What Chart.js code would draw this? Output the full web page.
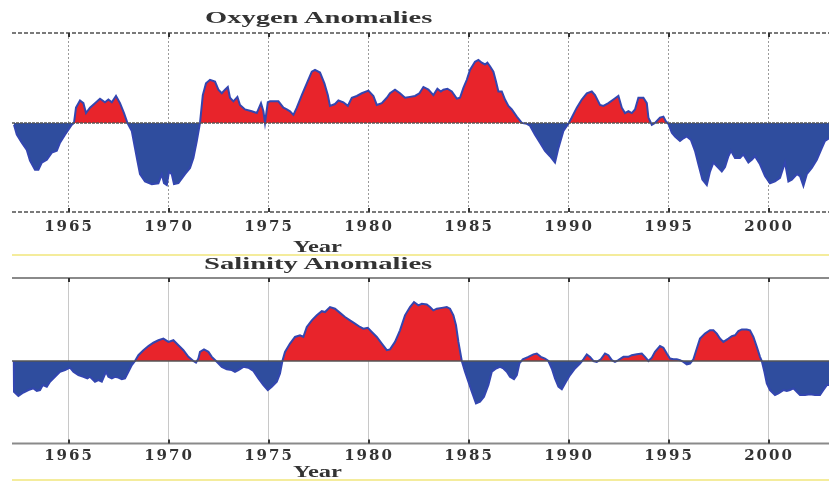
<!DOCTYPE html>
<html><head><meta charset="utf-8">
<script src="https://cdn.jsdelivr.net/npm/chart.js@4.4.1/dist/chart.umd.min.js"></script>
<style>
html,body{margin:0;padding:0;background:#fff;width:829px;height:481px;overflow:hidden;position:relative}
.wrap{position:absolute;left:0;width:829px}
#w1{top:0;height:255px}
#w2{top:255px;height:226px}
canvas{display:block}
.lbl{position:absolute;font-family:'Liberation Serif','Times New Roman',serif;font-weight:bold;color:#333;white-space:nowrap;transform-origin:left center;line-height:1}
.yl{position:absolute;left:12px;width:817px;height:2px;background:#f4ec9c}
</style></head>
<body>
<div class="wrap" id="w1"><canvas id="c1" width="829" height="255" style="width:829px;height:255px"></canvas></div>
<div class="wrap" id="w2"><canvas id="c2" width="829" height="226" style="width:829px;height:226px"></canvas></div>
<div class="lbl" id="t1" data-w="228" style="left:205px;top:9px;font-size:17px">Oxygen Anomalies</div>
<div class="lbl" id="y1" data-w="49" style="left:293px;top:239px;font-size:16px">Year</div>
<div class="yl" style="top:254px"></div>
<div class="lbl" id="t2" data-w="229" style="left:204px;top:255px;font-size:17px">Salinity Anomalies</div>
<div class="lbl" id="y2" data-w="49" style="left:293px;top:464px;font-size:16px">Year</div>
<div class="yl" style="top:479px"></div>
<script>
const tickYears = [1965, 1970, 1975, 1980, 1985, 1990, 1995, 2000];

const oxyYears = [1962.25,1962.39,1962.64,1962.89,1963.05,1963.30,1963.47,1963.64,1963.89,1964.14,1964.39,1964.55,1964.80,1965.14,1965.25,1965.35,1965.55,1965.72,1965.85,1966.05,1966.30,1966.55,1966.80,1966.97,1967.14,1967.35,1967.55,1967.75,1967.92,1968.14,1968.30,1968.42,1968.55,1968.80,1969.14,1969.47,1969.64,1969.75,1969.89,1970.00,1970.14,1970.25,1970.47,1970.80,1971.05,1971.22,1971.39,1971.55,1971.69,1971.85,1972.05,1972.30,1972.47,1972.64,1972.80,1972.94,1973.05,1973.22,1973.42,1973.55,1973.80,1974.14,1974.39,1974.60,1974.72,1974.80,1974.94,1975.05,1975.47,1975.72,1975.89,1976.05,1976.22,1976.39,1976.64,1976.89,1977.14,1977.30,1977.55,1977.77,1977.94,1978.05,1978.30,1978.47,1978.72,1978.94,1979.14,1979.39,1979.64,1979.97,1980.22,1980.39,1980.64,1980.89,1981.05,1981.30,1981.55,1981.80,1982.05,1982.30,1982.52,1982.72,1982.97,1983.22,1983.42,1983.59,1983.72,1983.92,1984.14,1984.39,1984.55,1984.72,1984.89,1985.05,1985.30,1985.47,1985.64,1985.80,1985.92,1986.05,1986.22,1986.35,1986.47,1986.64,1986.80,1986.97,1987.14,1987.39,1987.64,1987.89,1988.05,1988.30,1988.55,1988.80,1989.05,1989.30,1989.47,1989.72,1989.97,1990.14,1990.39,1990.64,1990.89,1991.14,1991.30,1991.55,1991.72,1991.97,1992.22,1992.47,1992.64,1992.80,1992.97,1993.14,1993.30,1993.47,1993.72,1993.89,1993.97,1994.14,1994.30,1994.55,1994.72,1994.84,1994.97,1995.14,1995.30,1995.55,1995.72,1995.89,1996.10,1996.30,1996.47,1996.67,1996.89,1997.05,1997.22,1997.47,1997.64,1997.80,1997.97,1998.10,1998.30,1998.55,1998.72,1998.97,1999.14,1999.30,1999.55,1999.80,2000.05,2000.30,2000.55,2000.80,2000.97,2001.14,2001.39,2001.55,2001.72,2001.89,2002.14,2002.39,2002.64,2002.80,2003.00];
const oxyValues = [-0.02,-0.13,-0.22,-0.30,-0.42,-0.52,-0.52,-0.44,-0.41,-0.33,-0.31,-0.22,-0.13,-0.02,0.00,0.17,0.25,0.22,0.11,0.17,0.22,0.27,0.23,0.26,0.23,0.30,0.22,0.11,0.00,-0.09,-0.28,-0.42,-0.57,-0.65,-0.68,-0.67,-0.57,-0.67,-0.69,-0.54,-0.57,-0.68,-0.67,-0.57,-0.50,-0.39,-0.20,0.00,0.31,0.44,0.48,0.46,0.37,0.33,0.37,0.40,0.28,0.24,0.29,0.20,0.15,0.13,0.11,0.22,0.13,0.00,0.23,0.24,0.24,0.17,0.15,0.13,0.09,0.17,0.31,0.44,0.57,0.59,0.56,0.44,0.31,0.19,0.21,0.25,0.23,0.19,0.28,0.30,0.33,0.36,0.30,0.20,0.22,0.28,0.33,0.37,0.33,0.28,0.29,0.30,0.33,0.40,0.37,0.31,0.38,0.35,0.37,0.38,0.35,0.27,0.28,0.39,0.48,0.59,0.68,0.70,0.67,0.65,0.67,0.63,0.57,0.46,0.35,0.35,0.26,0.19,0.15,0.07,0.00,-0.01,-0.03,-0.13,-0.22,-0.31,-0.37,-0.44,-0.28,-0.09,-0.01,0.06,0.17,0.26,0.33,0.35,0.31,0.20,0.19,0.22,0.26,0.30,0.17,0.11,0.13,0.11,0.15,0.28,0.28,0.22,0.06,-0.02,0.00,0.06,0.07,0.02,-0.01,-0.11,-0.15,-0.20,-0.17,-0.15,-0.19,-0.31,-0.46,-0.63,-0.69,-0.54,-0.44,-0.50,-0.54,-0.49,-0.37,-0.31,-0.39,-0.39,-0.35,-0.44,-0.41,-0.37,-0.46,-0.59,-0.67,-0.65,-0.61,-0.44,-0.65,-0.63,-0.57,-0.59,-0.70,-0.57,-0.50,-0.41,-0.28,-0.20,-0.17];

const salYears = [1962.24,1962.25,1962.47,1962.72,1962.97,1963.22,1963.39,1963.55,1963.69,1963.89,1964.05,1964.30,1964.55,1964.80,1965.05,1965.22,1965.47,1965.72,1965.92,1966.05,1966.30,1966.47,1966.64,1966.85,1966.97,1967.14,1967.30,1967.47,1967.64,1967.80,1967.97,1968.14,1968.30,1968.47,1968.72,1968.97,1969.22,1969.47,1969.72,1969.97,1970.22,1970.47,1970.72,1970.97,1971.22,1971.35,1971.47,1971.55,1971.75,1971.97,1972.14,1972.39,1972.64,1972.89,1973.14,1973.30,1973.47,1973.72,1973.97,1974.22,1974.47,1974.72,1974.94,1975.14,1975.39,1975.55,1975.67,1975.80,1976.05,1976.30,1976.55,1976.72,1976.89,1977.14,1977.39,1977.64,1977.80,1978.05,1978.30,1978.55,1978.80,1979.05,1979.30,1979.55,1979.72,1979.94,1980.14,1980.39,1980.64,1980.89,1981.05,1981.30,1981.55,1981.80,1982.05,1982.25,1982.47,1982.64,1982.89,1983.05,1983.22,1983.39,1983.64,1983.89,1984.05,1984.22,1984.35,1984.47,1984.64,1984.80,1984.97,1985.14,1985.35,1985.55,1985.75,1985.97,1986.14,1986.35,1986.55,1986.72,1986.89,1987.05,1987.25,1987.39,1987.52,1987.69,1987.97,1988.22,1988.39,1988.59,1988.80,1988.97,1989.14,1989.30,1989.47,1989.64,1989.85,1990.05,1990.30,1990.55,1990.72,1990.89,1991.05,1991.22,1991.39,1991.59,1991.80,1991.97,1992.14,1992.30,1992.47,1992.72,1992.97,1993.14,1993.39,1993.64,1993.80,1993.97,1994.14,1994.30,1994.55,1994.72,1994.89,1995.05,1995.22,1995.39,1995.55,1995.72,1995.89,1996.05,1996.22,1996.39,1996.55,1996.80,1997.05,1997.22,1997.39,1997.55,1997.72,1997.97,1998.14,1998.30,1998.47,1998.64,1998.89,1999.05,1999.22,1999.39,1999.55,1999.64,1999.77,1999.89,2000.05,2000.30,2000.47,2000.72,2000.89,2001.05,2001.22,2001.39,2001.55,2001.80,2002.05,2002.30,2002.55,2002.72,2002.89,2003.00];
const salValues = [0.00,-0.37,-0.42,-0.38,-0.35,-0.33,-0.36,-0.35,-0.29,-0.31,-0.25,-0.19,-0.13,-0.11,-0.08,-0.13,-0.17,-0.19,-0.21,-0.19,-0.25,-0.23,-0.25,-0.13,-0.19,-0.21,-0.19,-0.20,-0.22,-0.21,-0.13,-0.05,0.00,0.07,0.13,0.18,0.22,0.25,0.27,0.23,0.25,0.19,0.13,0.05,0.00,-0.02,0.03,0.11,0.14,0.11,0.05,-0.01,-0.07,-0.10,-0.11,-0.13,-0.11,-0.07,-0.08,-0.12,-0.21,-0.29,-0.35,-0.31,-0.25,-0.15,0.00,0.11,0.21,0.29,0.31,0.29,0.41,0.49,0.55,0.60,0.59,0.65,0.63,0.58,0.53,0.49,0.45,0.41,0.39,0.40,0.35,0.29,0.21,0.13,0.14,0.23,0.37,0.55,0.65,0.71,0.67,0.69,0.68,0.65,0.61,0.63,0.64,0.65,0.63,0.55,0.43,0.23,0.00,-0.13,-0.25,-0.37,-0.51,-0.49,-0.43,-0.29,-0.13,-0.09,-0.07,-0.09,-0.13,-0.19,-0.22,-0.17,-0.03,0.02,0.05,0.08,0.09,0.05,0.03,0.00,-0.09,-0.21,-0.31,-0.34,-0.25,-0.17,-0.09,-0.03,0.02,0.08,0.05,0.00,-0.01,0.02,0.09,0.07,0.01,-0.01,0.01,0.05,0.05,0.07,0.08,0.09,0.05,0.00,0.04,0.11,0.18,0.16,0.09,0.03,0.02,0.02,0.01,-0.01,-0.04,-0.03,0.02,0.15,0.27,0.33,0.37,0.37,0.33,0.27,0.23,0.27,0.30,0.31,0.36,0.38,0.38,0.37,0.29,0.17,0.05,0.00,-0.13,-0.27,-0.35,-0.41,-0.39,-0.35,-0.36,-0.35,-0.33,-0.37,-0.41,-0.41,-0.40,-0.41,-0.41,-0.35,-0.29,-0.29];

const X_MIN = 1962.15, X_MAX = 2003.0;
const RED = '#e8242b', BLUE = '#2f4d9e', LINE = '#3346b0';

function framePlugin(cfg) {
  return {
    id: 'frame',
    beforeDraw(chart) { chart.ctx.letterSpacing = '2px'; },
    afterDatasetsDraw(chart) {
      const {ctx, chartArea: a, scales} = chart;
      const y0 = scales.y.getPixelForValue(0);
      ctx.save();
      ctx.letterSpacing = '0px';
      ctx.strokeStyle = cfg.zeroColor; ctx.lineWidth = 1.5;
      ctx.setLineDash(cfg.zeroDash);
      ctx.beginPath(); ctx.moveTo(a.left, y0); ctx.lineTo(a.right, y0); ctx.stroke();
      ctx.strokeStyle = cfg.frameColor; ctx.lineWidth = 2;
      ctx.setLineDash(cfg.frameDash);
      ctx.beginPath();
      ctx.moveTo(a.left, a.top); ctx.lineTo(a.right, a.top);
      ctx.moveTo(a.left, a.bottom); ctx.lineTo(a.right, a.bottom);
      ctx.stroke();
      ctx.setLineDash([]);
      ctx.strokeStyle = '#333'; ctx.lineWidth = 2;
      ctx.beginPath();
      tickYears.forEach(v => {
        const x = scales.x.getPixelForValue(v);
        ctx.moveTo(x, a.top); ctx.lineTo(x, a.top + 4);
        ctx.moveTo(x, a.bottom); ctx.lineTo(x, a.bottom - 4);
      });
      ctx.stroke();
      ctx.restore();
    }
  };
}

function makeChart(id, years, values, cfg) {
  const pts = years.map((x, i) => ({x: x, y: values[i]}));
  return new Chart(document.getElementById(id), {
    type: 'line',
    data: { datasets: [{
      data: pts,
      borderColor: LINE, borderWidth: 2, pointRadius: 0, tension: 0,
      fill: { target: { value: 0 }, above: RED, below: BLUE }
    }]},
    options: {
      responsive: false, animation: false, devicePixelRatio: 1,
      layout: { padding: { left: 12, right: 0, top: cfg.padTop, bottom: cfg.padBottom } },
      plugins: { legend: { display: false }, tooltip: { enabled: false }, title: { display: false } },
      scales: {
        x: {
          type: 'linear', min: X_MIN, max: X_MAX,
          afterBuildTicks: s => { s.ticks = tickYears.map(v => ({ value: v })); },
          ticks: {
            callback: v => String(v), autoSkip: false, maxRotation: 0,
            padding: cfg.tickPad, color: '#333',
            font: { family: "'DejaVu Serif', serif", size: 15, weight: 'bold' }
          },
          grid: { color: cfg.gridColor, lineWidth: 1, drawTicks: false },
          border: { display: false, dash: cfg.gridDash }
        },
        y: { display: false, min: cfg.yMin, max: cfg.yMax }
      }
    },
    plugins: [framePlugin(cfg)]
  });
}

makeChart('c1', oxyYears, oxyValues, {
  padTop: 33, padBottom: 12, tickPad: 6.5, yMin: -0.99, yMax: 1.0,
  gridColor: '#9a9a9a', gridDash: [2, 2],
  zeroColor: '#555', zeroDash: [3, 1],
  frameColor: '#7a7a7a', frameDash: [4, 2]
});
makeChart('c2', salYears, salValues, {
  padTop: 23, padBottom: 12.5, tickPad: 3.5, yMin: -0.994, yMax: 1.0,
  gridColor: '#c8c8c8', gridDash: [],
  zeroColor: '#555', zeroDash: [],
  frameColor: '#8a8a8a', frameDash: []
});

document.querySelectorAll('.lbl').forEach(el => {
  const w = parseFloat(el.dataset.w);
  el.style.transform = 'scaleX(' + (w / el.offsetWidth) + ')';
});
</script>
</body></html>
